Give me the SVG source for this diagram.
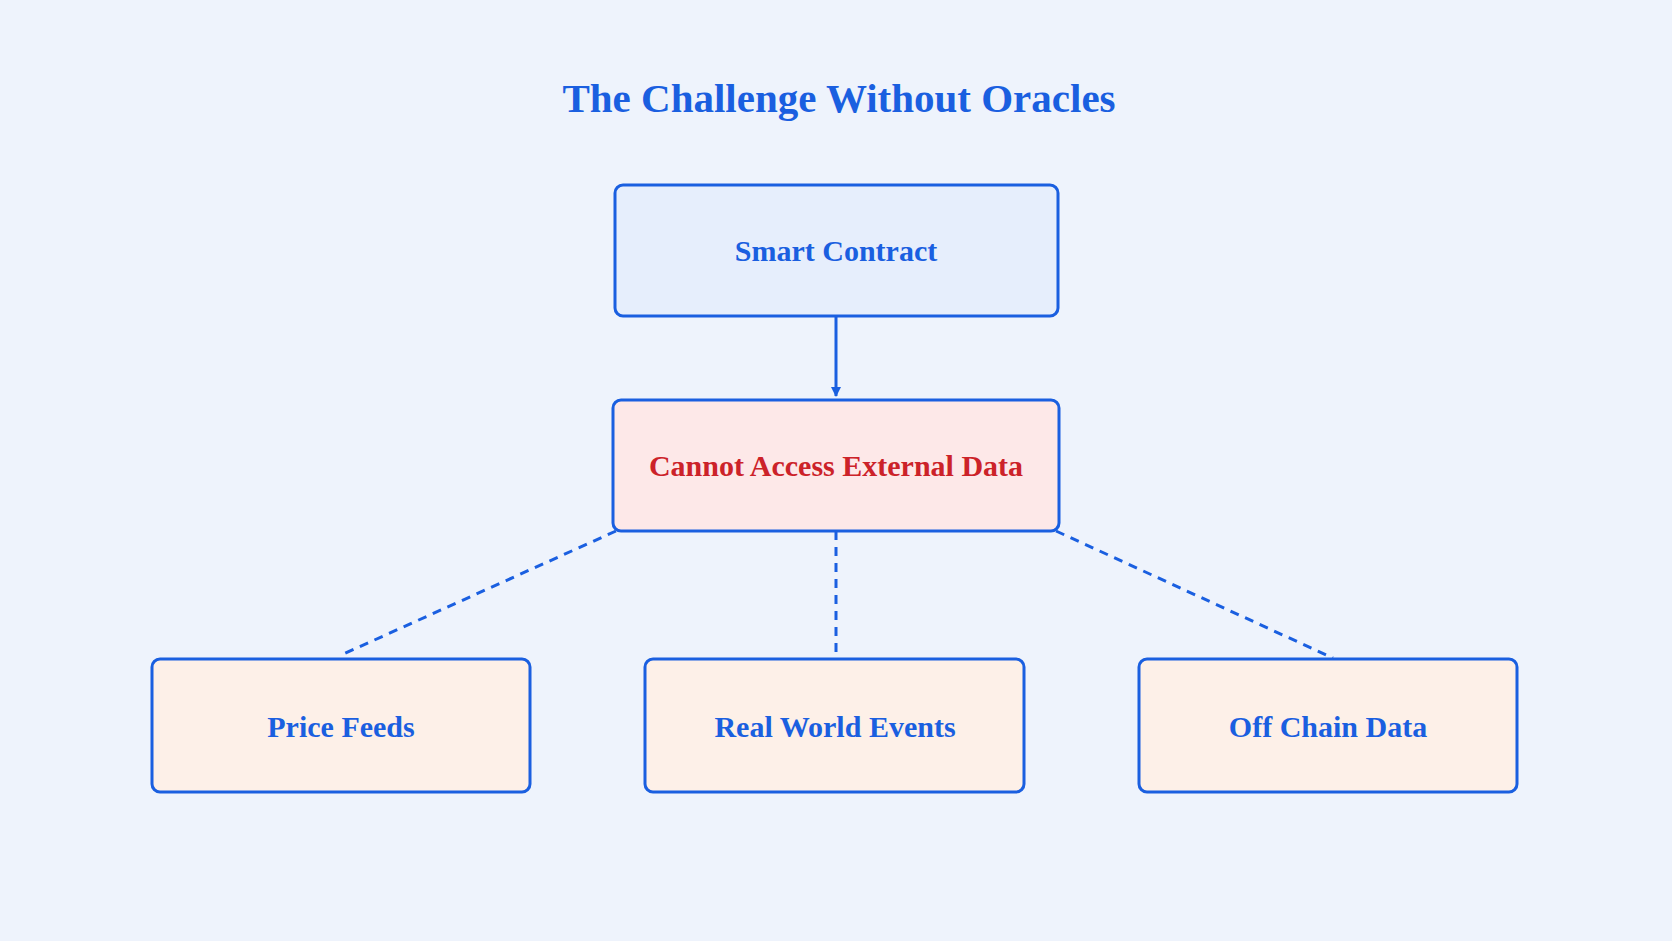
<svg xmlns="http://www.w3.org/2000/svg" width="1672" height="941" viewBox="0 0 1672 941">
<defs>
<style>
.box{stroke:#1a5fe0;stroke-width:3}
.lbl{font-family:"Liberation Serif",serif;font-weight:bold;font-size:30px;fill:#1a5fe0;text-anchor:middle;dominant-baseline:central}
.dash{stroke:#1a5fe0;stroke-width:3;stroke-dasharray:9 7;fill:none}
</style>
<marker id="ah" markerWidth="10" markerHeight="10" refX="9" refY="5" orient="auto" markerUnits="userSpaceOnUse" viewBox="0 0 10 10"><path d="M0,0 L10,5 L0,10 z" fill="#1a5fe0"/></marker>
</defs>
<rect width="1672" height="941" fill="#eef3fc"/>
<text x="839" y="98" class="lbl" style="font-size:41px">The Challenge Without Oracles</text>
<g id="connectors">
<line x1="836" y1="317" x2="836" y2="396" stroke="#1a5fe0" stroke-width="3" marker-end="url(#ah)"/>
<line class="dash" x1="616" y1="531" x2="339" y2="656"/>
<line class="dash" x1="836" y1="531" x2="836" y2="658"/>
<line class="dash" x1="1056" y1="531" x2="1333" y2="658"/>
</g>
<g id="smart"><rect class="box" x="615" y="185" width="443" height="131" rx="8" fill="#e6eefc"/><text class="lbl" x="836" y="250">Smart Contract</text></g>
<g id="cannot"><rect class="box" x="613" y="400" width="446" height="131" rx="8" fill="#fde8e8"/><text class="lbl" x="836" y="465" style="fill:#cc2229">Cannot Access External Data</text></g>
<g id="price"><rect class="box" x="152" y="659" width="378" height="133" rx="8" fill="#fdf0e8"/><text class="lbl" x="341" y="726">Price Feeds</text></g>
<g id="real"><rect class="box" x="645" y="659" width="379" height="133" rx="8" fill="#fdf0e8"/><text class="lbl" x="835" y="726">Real World Events</text></g>
<g id="offchain"><rect class="box" x="1139" y="659" width="378" height="133" rx="8" fill="#fdf0e8"/><text class="lbl" x="1328" y="726">Off Chain Data</text></g>
</svg>
